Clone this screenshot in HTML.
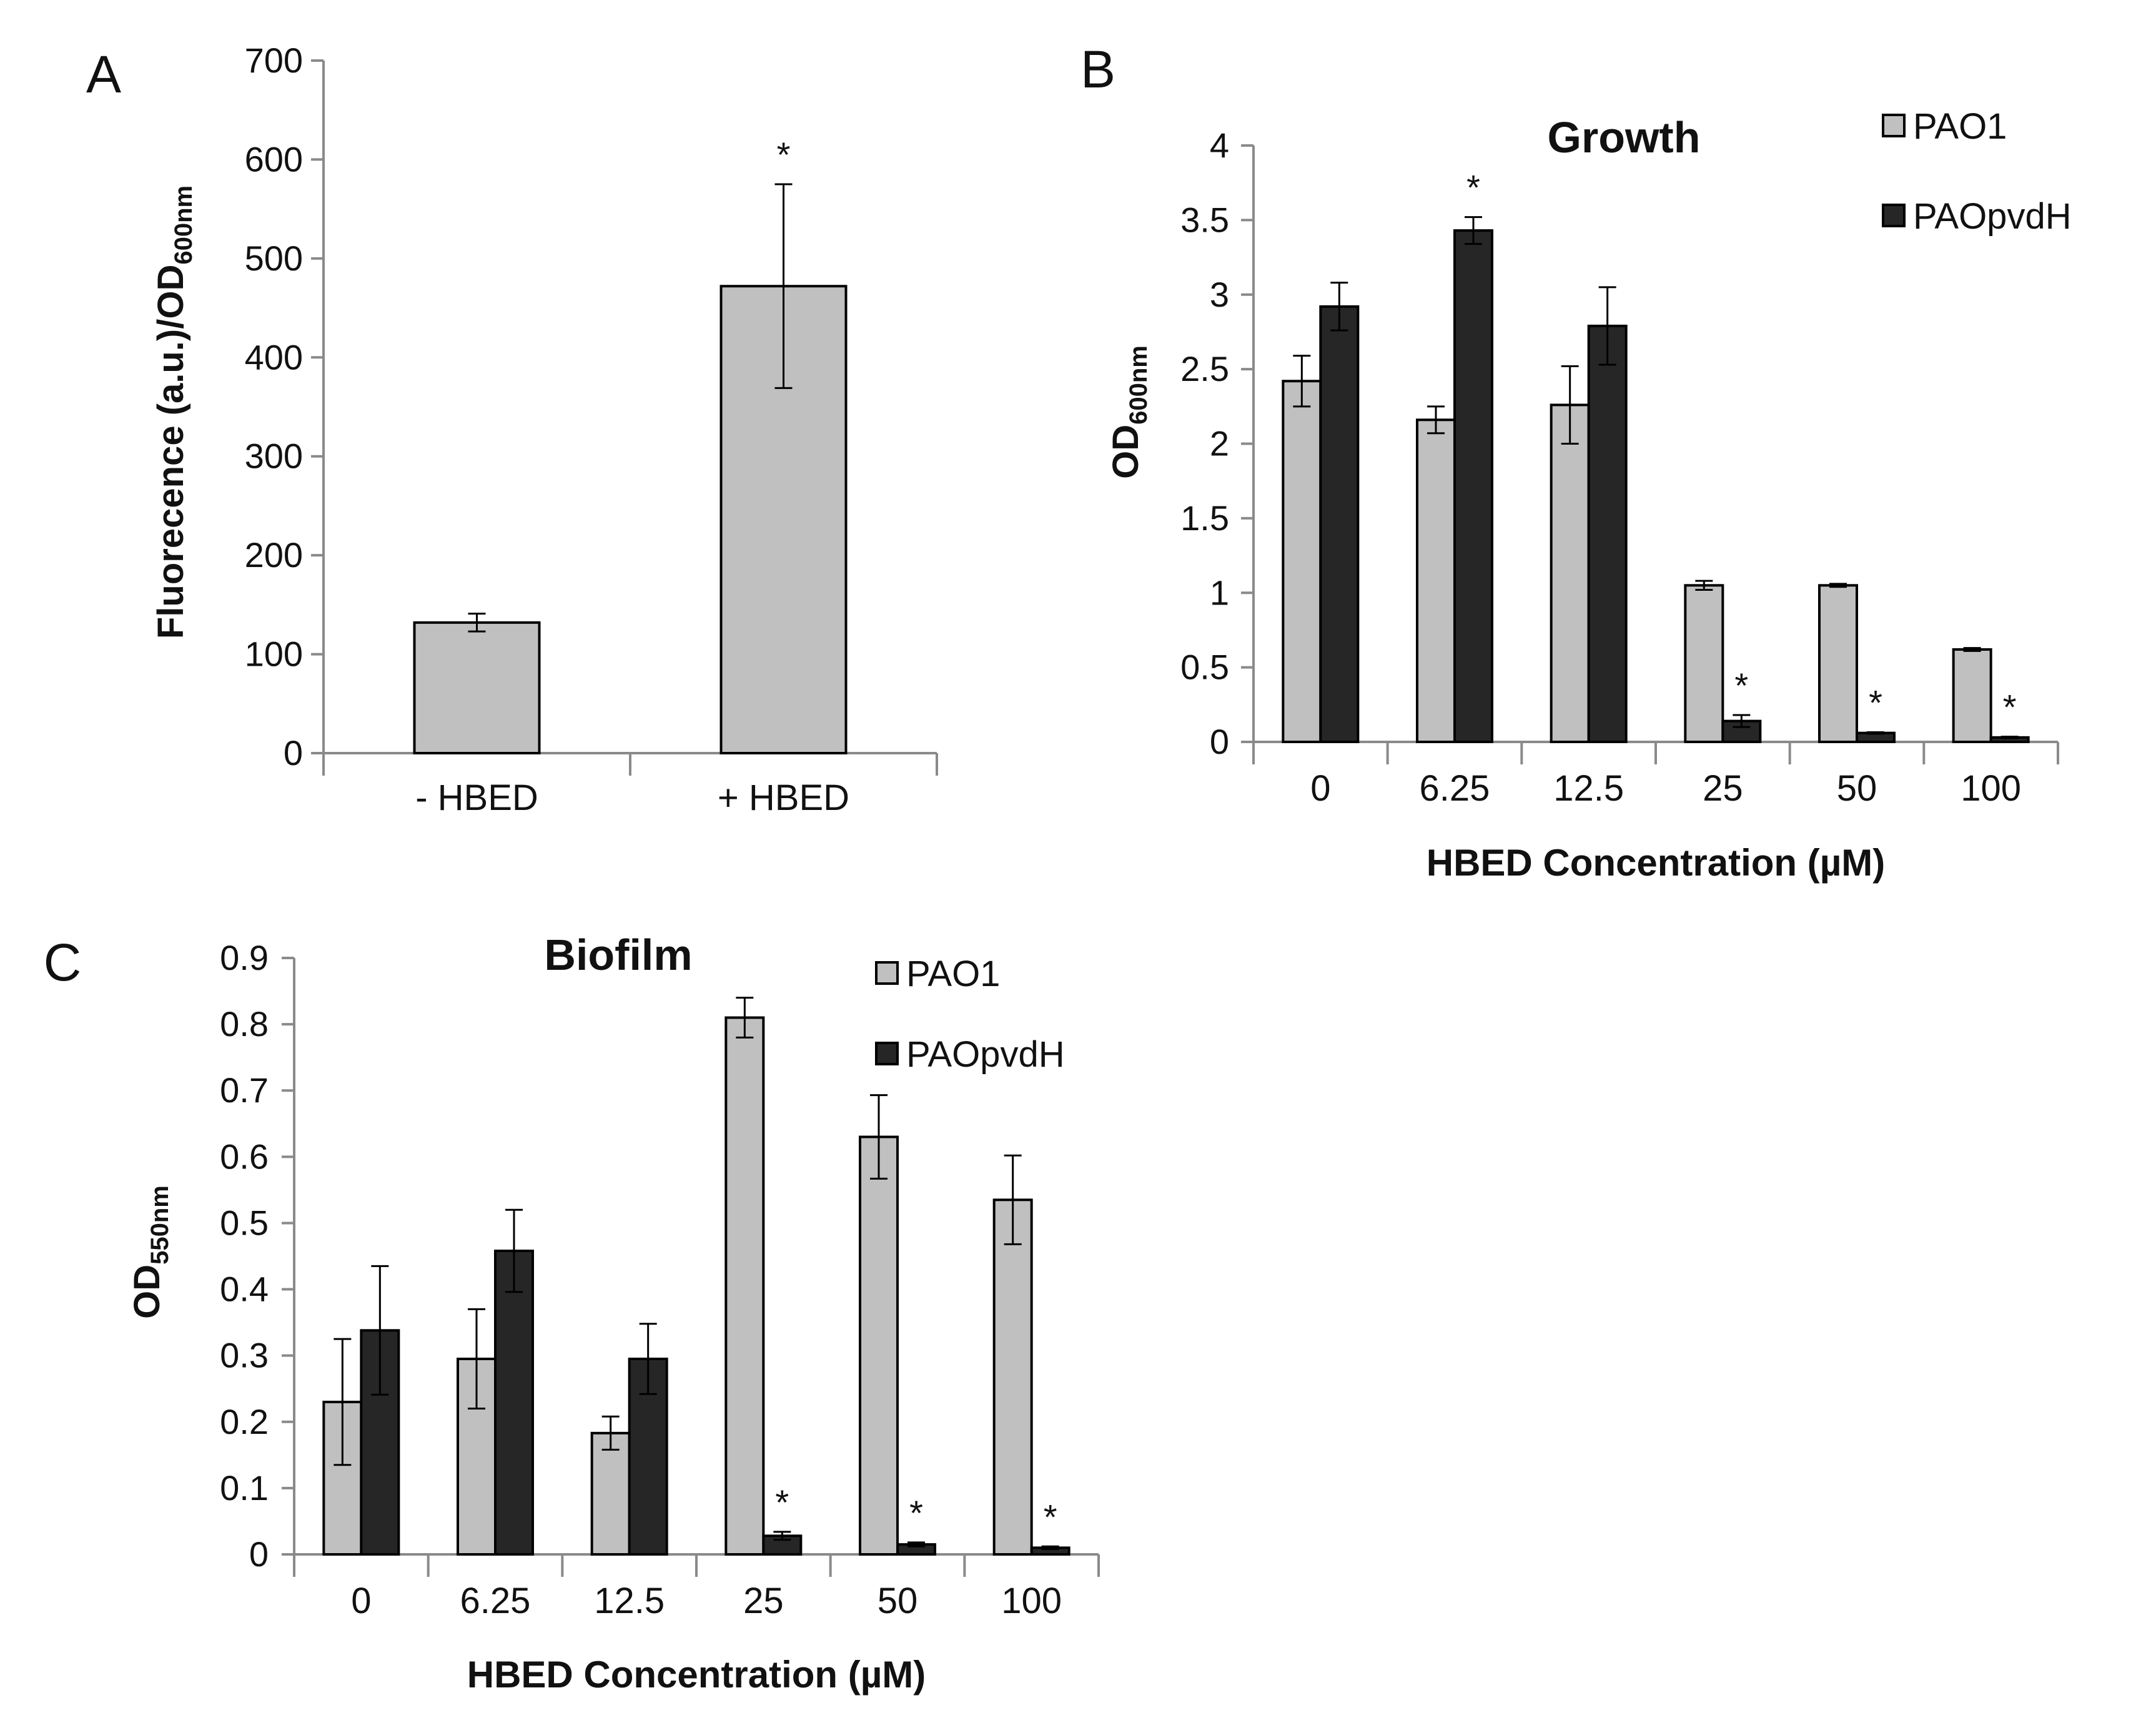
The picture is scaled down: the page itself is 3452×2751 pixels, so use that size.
<!DOCTYPE html>
<html><head><meta charset="utf-8"><style>
html,body{margin:0;padding:0;background:#fff;}
svg{display:block;font-family:"Liberation Sans","DejaVu Sans",sans-serif;}
</style></head><body>
<svg id="fig" width="3452" height="2751" viewBox="0 0 3452 2751" xmlns="http://www.w3.org/2000/svg">
<rect width="3452" height="2751" fill="#fff"/>
</svg>
<script>
// Panel A data
const aCats = ["- HBED", "+ HBED"];
const aVals = [132, 472];
const aErr = [9, 103];
const aStars = [false, true];
const aTicks = [0, 100, 200, 300, 400, 500, 600, 700];
// Panel B data
const bCats = ["0", "6.25", "12.5", "25", "50", "100"];
const bPAO1 = [2.42, 2.16, 2.26, 1.05, 1.05, 0.62];
const bPAO1Err = [0.17, 0.09, 0.26, 0.03, 0.01, 0.01];
const bPvdH = [2.92, 3.43, 2.79, 0.14, 0.06, 0.03];
const bPvdHErr = [0.16, 0.09, 0.26, 0.04, 0.005, 0.005];
const bStars = [false, true, false, true, true, true];
const bTicks = ["0", "0.5", "1", "1.5", "2", "2.5", "3", "3.5", "4"];
// Panel C data
const cCats = ["0", "6.25", "12.5", "25", "50", "100"];
const cPAO1 = [0.23, 0.295, 0.183, 0.81, 0.63, 0.535];
const cPAO1Err = [0.095, 0.075, 0.025, 0.03, 0.063, 0.067];
const cPvdH = [0.338, 0.458, 0.295, 0.028, 0.015, 0.01];
const cPvdHErr = [0.097, 0.062, 0.053, 0.006, 0.003, 0.002];
const cStars = [false, false, false, true, true, true];
const cTicks = ["0", "0.1", "0.2", "0.3", "0.4", "0.5", "0.6", "0.7", "0.8", "0.9"];

const NS = "http://www.w3.org/2000/svg";
const svg = document.getElementById("fig");
function mk(tag, attrs, parent, text) {
  const e = document.createElementNS(NS, tag);
  for (const k in attrs) e.setAttribute(k, attrs[k]);
  if (text !== undefined) e.textContent = text;
  (parent || svg).appendChild(e);
  return e;
}
const LIGHT = "#c0c0c0", DARK = "#262626";

function axes(g, x0, x1, y0, yTop, ticks, vmax, nCats, labelX, name) {
  const ys = v => y0 - (v / vmax) * (y0 - yTop);
  let e = mk("line", {x1: x0, y1: yTop, x2: x0, y2: y0 + 20, stroke: "#8a8a8a", "stroke-width": 4}, g);
  
  
  e = mk("line", {x1: x0 - 20, y1: y0, x2: x1, y2: y0, stroke: "#8a8a8a", "stroke-width": 4}, g);
  
  
  ticks.forEach(t => {
    const y = ys(parseFloat(t));
    mk("line", {x1: x0 - 20, y1: y, x2: x0, y2: y, stroke: "#8a8a8a", "stroke-width": 4}, g);
    const tx = mk("text", {x: labelX, y: y + 19, "text-anchor": "end", "font-size": 56, fill: "#111"}, g, t);
    
    
  });
  const w = (x1 - x0) / nCats;
  for (let i = 0; i <= nCats; i++) {
    mk("line", {x1: x0 + i * w, y1: y0, x2: x0 + i * w, y2: y0 + 36, stroke: "#8a8a8a", "stroke-width": 4}, g);
  }
  return ys;
}
function bar(g, x, w, v, err, ys, y0, fill, name) {
  const r = mk("rect", {x: x, y: ys(v), width: w, height: y0 - ys(v), fill: fill, stroke: "#000", "stroke-width": 4}, g);
  
  
  const cx = x + w / 2;
  const e = mk("path", {d: `M${cx},${ys(v + err)}V${ys(v - err)}M${cx - 14},${ys(v + err)}H${cx + 14}M${cx - 14},${ys(v - err)}H${cx + 14}`, stroke: "#000", "stroke-width": 3, fill: "none"}, g);
  
  
}
function star(g, x, y, name) {
  const s = mk("text", {x: x, y: y, "text-anchor": "middle", "font-size": 56, fill: "#111"}, g, "*");
  
  
}

// ---------- Panel A ----------
(function () {
  const g = mk("g", {});
  
  
  const x0 = 518, x1 = 1500, y0 = 1206, yTop = 97;
  const ys = axes(g, x0, x1, y0, yTop, aTicks.map(String), 700, 2, 485, 'panel-a');
  const w = (x1 - x0) / 2;
  aCats.forEach((c, i) => {
    const cx = x0 + w * (i + 0.5);
    bar(g, cx - 100, 200, aVals[i], aErr[i], ys, y0, LIGHT, 'panel-a-bar-' + i);
    if (aStars[i]) star(g, cx, ys(aVals[i] + aErr[i]) - 28, 'panel-a-significance-star');
    const t = mk("text", {x: cx, y: 1297, "text-anchor": "middle", "font-size": 58, fill: "#111"}, g, c);
    
    
  });
  let t = mk("text", {x: 166, y: 148, "text-anchor": "middle", "font-size": 84, fill: "#111"}, g, "A");
  
  
  t = mk("text", {transform: "translate(293,660) rotate(-90)", "text-anchor": "middle", "font-size": 58, "font-weight": "bold", fill: "#111"}, g);
  
  
  mk("tspan", {}, t, "Fluorecence (a.u.)/OD");
  mk("tspan", {"font-size": 40, dy: 14}, t, "600nm");
})();

// ---------- grouped panels ----------
function grouped(cfg) {
  const g = mk("g", {});
  
  
  const ys = axes(g, cfg.x0, cfg.x1, cfg.y0, cfg.yTop, cfg.ticks, cfg.vmax, cfg.cats.length, cfg.labelX, cfg.name);
  const w = (cfg.x1 - cfg.x0) / cfg.cats.length;
  const bw = 60;
  cfg.cats.forEach((c, i) => {
    const cx = cfg.x0 + w * (i + 0.5);
    bar(g, cx - bw, bw, cfg.s1[i], cfg.e1[i], ys, cfg.y0, LIGHT, cfg.name + '-pao1-bar-' + i);
    bar(g, cx, bw, cfg.s2[i], cfg.e2[i], ys, cfg.y0, DARK, cfg.name + '-pvdh-bar-' + i);
    if (cfg.stars[i]) star(g, cx + bw / 2, ys(cfg.s2[i] + cfg.e2[i]) - 28, cfg.name + '-significance-star');
    const t = mk("text", {x: cx, y: cfg.y0 + 94, "text-anchor": "middle", "font-size": 58, fill: "#111"}, g, c);
    
    
  });
  let t = mk("text", {x: cfg.px, y: cfg.py, "text-anchor": "middle", "font-size": 84, fill: "#111"}, g, cfg.letter);
  
  
  t = mk("text", {x: cfg.tx, y: cfg.ty, "text-anchor": "middle", "font-size": 70, "font-weight": "bold", fill: "#111"}, g, cfg.title);
  
  
  t = mk("text", {x: (cfg.x0 + cfg.x1) / 2, y: cfg.xty, "text-anchor": "middle", "font-size": 60, "font-weight": "bold", fill: "#111"}, g, "HBED Concentration (\u00b5M)");
  
  
  t = mk("text", {transform: `translate(${cfg.ytx},${cfg.yty}) rotate(-90)`, "text-anchor": "middle", "font-size": 58, "font-weight": "bold", fill: "#111"}, g);
  
  
  mk("tspan", {}, t, "OD");
  mk("tspan", {"font-size": 40, dy: 14}, t, cfg.sub);
  [["PAO1", LIGHT, cfg.ly1], ["PAOpvdH", DARK, cfg.ly2]].forEach(([lab, col, y], k) => {
    const r = mk("rect", {x: cfg.lx, y: y - 18, width: 34, height: 34, fill: col, stroke: "#000", "stroke-width": 4}, g);
    
    
    const tt = mk("text", {x: cfg.lx + 48, y: y + 20, "font-size": 58, fill: "#111"}, g, lab);
    
    
  });
}
grouped({name: 'panel-b', letter: 'B', px: 1758, py: 140, x0: 2007, x1: 3295, y0: 1188, yTop: 233, vmax: 4,
  ticks: bTicks, labelX: 1968, cats: bCats, s1: bPAO1, e1: bPAO1Err, s2: bPvdH, e2: bPvdHErr, stars: bStars,
  title: 'Growth', tx: 2600, ty: 244, xty: 1402, ytx: 1822, yty: 660, sub: '600nm', lx: 3015, ly1: 202, ly2: 346});
grouped({name: 'panel-c', letter: 'C', px: 100, py: 1570, x0: 471, x1: 1759, y0: 2489, yTop: 1534, vmax: 0.9,
  ticks: cTicks, labelX: 430, cats: cCats, s1: cPAO1, e1: cPAO1Err, s2: cPvdH, e2: cPvdHErr, stars: cStars,
  title: 'Biofilm', tx: 990, ty: 1553, xty: 2702, ytx: 255, yty: 2005, sub: '550nm', lx: 1403, ly1: 1559, ly2: 1688});
</script>
</body></html>
